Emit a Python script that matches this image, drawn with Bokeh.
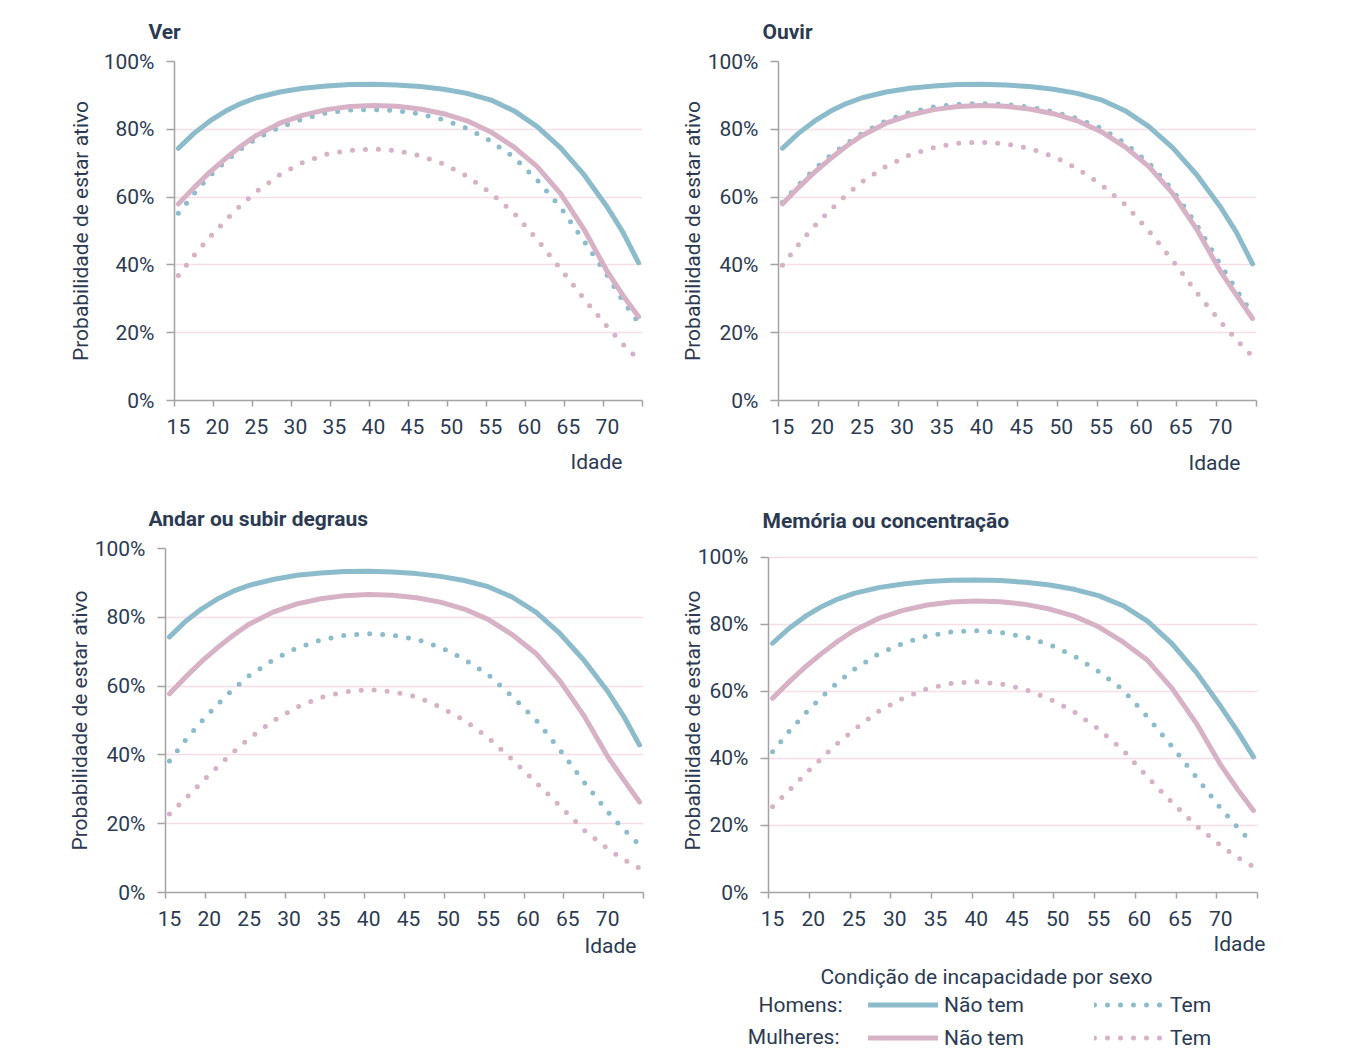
import numpy as np
from bokeh.plotting import figure
from bokeh.layouts import column, row
from bokeh.models import Range1d, FixedTicker, Label, Legend, LegendItem, Title, Spacer
from bokeh.embed import file_html
from bokeh.resources import INLINE

# ---------------- data ----------------
ages = [15, 17, 19, 21, 23, 25, 28, 31, 34, 37, 40, 43, 46, 49, 52, 55, 58, 61, 64, 67, 70, 72, 74]

panel_titles = ["Ver", "Ouvir", "Andar ou subir degraus", "Memória ou concentração"]

ver_homens_nao_tem = [74.4, 78.8, 82.4, 85.3, 87.6, 89.3, 91.0, 92.1, 92.8, 93.2, 93.3, 93.1, 92.6, 91.8, 90.6, 88.7, 85.5, 80.8, 74.5, 66.6, 57.0, 49.6, 40.6]
ver_homens_tem = [55.2, 61.0, 66.2, 70.5, 74.2, 77.3, 80.6, 83.1, 84.9, 85.7, 85.8, 85.5, 84.5, 82.8, 80.3, 76.6, 71.8, 65.0, 57.0, 47.0, 36.8, 29.3, 23.0]
ver_mulheres_nao_tem = [58.0, 62.8, 67.3, 71.3, 75.0, 78.2, 81.8, 84.2, 85.8, 86.7, 87.0, 86.8, 86.0, 84.6, 82.5, 79.3, 74.8, 69.0, 61.0, 50.5, 38.0, 31.0, 24.7]
ver_mulheres_tem = [36.9, 42.8, 48.1, 53.0, 57.6, 61.6, 66.6, 70.3, 72.6, 73.8, 74.2, 73.7, 72.2, 69.8, 66.2, 61.3, 55.3, 47.5, 38.8, 30.0, 21.7, 16.6, 12.0]

ouvir_homens_nao_tem = [74.4, 78.8, 82.4, 85.3, 87.6, 89.3, 91.0, 92.1, 92.8, 93.2, 93.3, 93.1, 92.6, 91.8, 90.6, 88.7, 85.5, 80.8, 74.5, 66.6, 57.0, 49.5, 40.3]
ouvir_homens_tem = [58.5, 63.6, 68.2, 72.2, 75.7, 78.8, 82.5, 85.0, 86.6, 87.4, 87.6, 87.3, 86.6, 85.2, 83.2, 80.3, 75.9, 70.0, 62.0, 51.8, 40.0, 32.6, 25.5]
ouvir_mulheres_nao_tem = [58.0, 62.8, 67.3, 71.3, 75.0, 78.2, 81.8, 84.2, 85.8, 86.7, 87.0, 86.8, 86.0, 84.6, 82.5, 79.3, 74.8, 69.0, 61.0, 50.5, 38.0, 31.0, 24.2]
ouvir_mulheres_tem = [39.9, 46.0, 51.4, 56.2, 60.6, 64.5, 69.1, 72.5, 74.6, 75.9, 76.2, 75.7, 74.4, 72.0, 68.4, 63.7, 57.8, 50.0, 41.2, 31.8, 23.2, 17.9, 13.0]

andar_homens_nao_tem = [74.3, 78.8, 82.4, 85.3, 87.6, 89.3, 91.0, 92.2, 92.9, 93.3, 93.4, 93.2, 92.7, 91.9, 90.7, 88.9, 85.9, 81.5, 75.3, 67.6, 58.5, 51.3, 42.9]
andar_homens_tem = [38.2, 44.3, 49.7, 54.6, 59.1, 63.0, 67.6, 71.1, 73.4, 74.8, 75.2, 74.8, 73.6, 71.3, 67.8, 63.3, 57.0, 50.2, 41.5, 32.2, 23.5, 18.4, 13.8]
andar_mulheres_nao_tem = [57.8, 62.6, 67.1, 71.1, 74.8, 78.0, 81.5, 83.9, 85.4, 86.3, 86.6, 86.4, 85.7, 84.4, 82.4, 79.4, 75.0, 69.5, 61.5, 51.5, 39.5, 32.8, 26.3]
andar_mulheres_tem = [22.8, 27.2, 32.0, 36.5, 40.8, 44.8, 49.9, 53.9, 56.7, 58.3, 59.0, 58.4, 56.9, 53.9, 50.1, 45.0, 38.7, 32.0, 25.2, 18.2, 12.7, 9.6, 7.1]

memoria_homens_nao_tem = [74.4, 78.8, 82.4, 85.3, 87.6, 89.3, 91.0, 92.1, 92.8, 93.2, 93.3, 93.1, 92.6, 91.8, 90.5, 88.6, 85.6, 81.0, 74.3, 65.7, 55.5, 48.3, 40.5]
memoria_homens_tem = [42.0, 48.0, 53.4, 58.3, 62.7, 66.6, 71.2, 74.4, 76.6, 77.8, 78.1, 77.6, 76.3, 74.0, 70.6, 66.0, 60.5, 52.4, 43.6, 34.4, 25.1, 19.6, 14.3]
memoria_mulheres_nao_tem = [58.0, 62.8, 67.3, 71.3, 75.0, 78.2, 81.8, 84.2, 85.8, 86.7, 87.0, 86.8, 86.0, 84.6, 82.5, 79.3, 74.8, 69.3, 61.0, 50.5, 38.0, 31.0, 24.5]
memoria_mulheres_tem = [25.6, 30.4, 35.3, 40.0, 44.6, 48.6, 54.1, 58.0, 60.9, 62.4, 62.9, 62.3, 60.6, 57.8, 53.9, 48.8, 42.5, 34.5, 26.9, 19.9, 14.0, 10.5, 7.7]

x_ticks = [15, 20, 25, 30, 35, 40, 45, 50, 55, 60, 65, 70]
x_tick_labels = ["15", "20", "25", "30", "35", "40", "45", "50", "55", "60", "65", "70"]
y_ticks = [0, 20, 40, 60, 80, 100]
y_tick_labels = ["0%", "20%", "40%", "60%", "80%", "100%"]

y_axis_title = "Probabilidade de estar ativo"
x_axis_title = "Idade"
legend_title = "Condição de incapacidade por sexo"
group_labels = ["Homens:", "Mulheres:"]
status_labels = ["Não tem", "Tem"]

# ---------------- style ----------------
TEAL = "#8CBCCB"
PINK = "#D7B1C5"
TEXT = "#2B3A52"
GRID = "#F6DDE6"
AXIS = "#A3A3A3"
FONT = "Roboto"
FS = "21px"

x_lo, x_hi = 14.5, 74.5
boundaries = [t - 0.5 for t in x_ticks] + [74.5]  # category boundaries carry the tick marks


def make_panel(title, hn, ht, mn, mt, width, height, borders, y_end, t_off, t_stand,
               ylab_stand, xlab_stand, idade_off, idade_stand):
    bl, br, bt, bb = borders
    p = figure(width=width, height=height, output_backend="svg", toolbar_location=None,
               x_range=Range1d(x_lo, x_hi), y_range=Range1d(0, y_end),
               min_border_left=bl, min_border_right=br, min_border_top=bt, min_border_bottom=bb,
               title=title)
    p.outline_line_color = None
    p.background_fill_color = "white"
    p.border_fill_color = "white"

    p.title.align = "left"
    p.title.offset = t_off
    p.title.standoff = t_stand
    p.title.text_font = FONT
    p.title.text_font_size = FS
    p.title.text_font_style = "bold"
    p.title.text_color = TEXT

    xa = p.xaxis[0]
    xa.ticker = FixedTicker(ticks=x_ticks, minor_ticks=boundaries)
    xa.major_label_overrides = {t: l for t, l in zip(x_ticks, x_tick_labels)}
    xa.major_tick_out = 0
    xa.major_tick_in = 0
    xa.minor_tick_out = 6
    xa.minor_tick_in = 0
    xa.minor_tick_line_color = AXIS
    xa.minor_tick_line_width = 1.5
    xa.axis_line_color = AXIS
    xa.axis_line_width = 1.5
    xa.major_label_standoff = xlab_stand
    xa.major_label_text_font = FONT
    xa.major_label_text_font_size = FS
    xa.major_label_text_color = TEXT

    ya = p.yaxis[0]
    ya.bounds = (0, 100)
    ya.ticker = FixedTicker(ticks=y_ticks, minor_ticks=[])
    ya.major_label_overrides = {t: l for t, l in zip(y_ticks, y_tick_labels)}
    ya.major_tick_out = 8
    ya.major_tick_in = 0
    ya.major_tick_line_color = AXIS
    ya.major_tick_line_width = 1.5
    ya.minor_tick_line_color = None
    ya.axis_line_color = AXIS
    ya.axis_line_width = 1.5
    ya.major_label_standoff = 12
    ya.major_label_text_font = FONT
    ya.major_label_text_font_size = FS
    ya.major_label_text_color = TEXT
    ya.axis_label = y_axis_title
    ya.axis_label_standoff = ylab_stand
    ya.axis_label_text_font = FONT
    ya.axis_label_text_font_size = FS
    ya.axis_label_text_font_style = "normal"
    ya.axis_label_text_color = TEXT

    p.xgrid.visible = False
    p.ygrid.ticker = FixedTicker(ticks=y_ticks)
    p.ygrid.grid_line_color = GRID
    p.ygrid.grid_line_width = 1.5

    p.line(ages, hn, line_color=TEAL, line_width=5, line_cap="round", line_join="round")
    p.line(ages, ht, line_color=TEAL, line_width=5, line_cap="round", line_dash="0 13")
    p.line(ages, mn, line_color=PINK, line_width=5, line_cap="round", line_join="round")
    p.line(ages, mt, line_color=PINK, line_width=5, line_cap="round", line_dash="0 13")

    p.add_layout(Title(text=x_axis_title, align="right", offset=idade_off, standoff=idade_stand,
                       text_font=FONT, text_font_size=FS, text_font_style="normal",
                       text_color=TEXT), "below")
    return p


# row 1 spans y 0-487, row 2 spans y 487-960, legend strip 960-1050
p1 = make_panel(panel_titles[0], ver_homens_nao_tem, ver_homens_tem, ver_mulheres_nao_tem,
                ver_mulheres_tem, 668, 487, (174, 26, 60, 87), 100, -26, 35, 8, 12, 20, 22)
p2 = make_panel(panel_titles[1], ouvir_homens_nao_tem, ouvir_homens_tem, ouvir_mulheres_nao_tem,
                ouvir_mulheres_tem, 670, 487, (110, 82, 60, 87), 100, -16, 35, 0, 12, 16, 24)
p3 = make_panel(panel_titles[2], andar_homens_nao_tem, andar_homens_tem, andar_mulheres_nao_tem,
                andar_mulheres_tem, 668, 473, (165, 25, 60, 68), 100, -17, 35, 0, 12, 7, 6)
p4 = make_panel(panel_titles[3], memoria_homens_nao_tem, memoria_homens_tem,
                memoria_mulheres_nao_tem, memoria_mulheres_tem, 670, 473, (100, 81, 60, 68),
                102.68, -6, 31, -10, 12, -8, 2)

# ---------------- legend strip ----------------
leg = figure(width=670, height=90, output_backend="svg", toolbar_location=None,
             x_range=Range1d(0, 670), y_range=Range1d(0, 90),
             x_axis_location=None, y_axis_location=None,
             min_border_left=0, min_border_right=0, min_border_top=0, min_border_bottom=0)
leg.outline_line_color = None
leg.grid.visible = False
leg.background_fill_color = "white"
leg.border_fill_color = "white"

no_data = np.array([np.nan])  # legend samples only: nothing is plotted in this strip
l_hn = leg.line(x=no_data, y=no_data, line_color=TEAL, line_width=5, line_cap="round")
l_ht = leg.line(x=no_data, y=no_data, line_color=TEAL, line_width=5, line_cap="round", line_dash="0 13")
l_mn = leg.line(x=no_data, y=no_data, line_color=PINK, line_width=5, line_cap="round")
l_mt = leg.line(x=no_data, y=no_data, line_color=PINK, line_width=5, line_cap="round", line_dash="0 13")

legend = Legend(
    items=[LegendItem(label=status_labels[0], renderers=[l_hn]),
           LegendItem(label=status_labels[1], renderers=[l_ht]),
           LegendItem(label=status_labels[0], renderers=[l_mn]),
           LegendItem(label=status_labels[1], renderers=[l_mt])],
    location=(200, 0), orientation="horizontal", ncols=2,
    glyph_width=70, glyph_height=25, label_width=142, label_height=25, label_standoff=6,
    spacing=8, padding=0, margin=0, border_line_color=None, background_fill_alpha=0,
    label_text_font=FONT, label_text_font_size=FS, label_text_color=TEXT,
)
leg.add_layout(legend)

leg.add_layout(Label(x=318, y=74, text=legend_title, text_font=FONT, text_font_size=FS,
                     text_color=TEXT, text_align="center", text_baseline="middle"))
leg.add_layout(Label(x=174, y=46, text=group_labels[0], text_font=FONT, text_font_size=FS,
                     text_color=TEXT, text_align="right", text_baseline="middle"))
leg.add_layout(Label(x=171, y=14, text=group_labels[1], text_font=FONT, text_font_size=FS,
                     text_color=TEXT, text_align="right", text_baseline="middle"))

layout = column(row(p1, p2), row(p3, p4), row(Spacer(width=668, height=90), leg))
open("out.html", "w").write(file_html(layout, INLINE))
